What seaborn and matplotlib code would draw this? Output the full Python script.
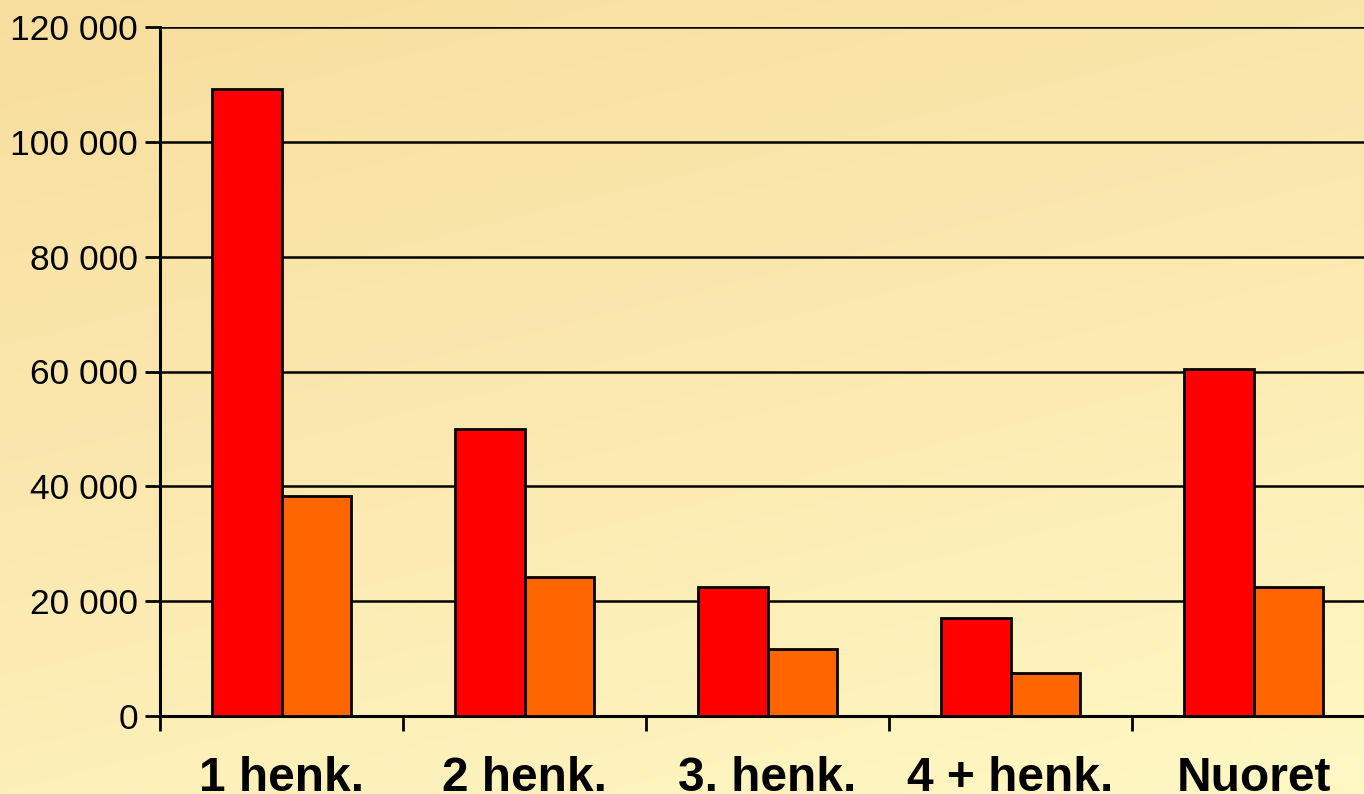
import numpy as np
import pandas as pd
import seaborn as sns
import matplotlib.pyplot as plt
from matplotlib.colors import LinearSegmentedColormap
from matplotlib.ticker import FuncFormatter, FixedLocator

# Data
categories = ["1 henk.", "2 henk.", "3. henk.", "4 + henk.", "Nuoret"]
series_1 = [109200, 50000, 22500, 17100, 60400]
series_2 = [38300, 24200, 11700, 7500, 22500]
series_names = ["Sarja 1", "Sarja 2"]
colors = ["#FF0000", "#FF6600"]

df = pd.DataFrame({
    "ryhma": categories * 2,
    "arvo": series_1 + series_2,
    "sarja": [series_names[0]] * len(categories) + [series_names[1]] * len(categories),
})

sns.set_theme(style="white")
plt.rcParams["font.family"] = ["Liberation Sans", "DejaVu Sans"]

fig = plt.figure(figsize=(13.64, 7.94), dpi=100)

# soft warm background (stand-in for the textured slide background)
bg = fig.add_axes([0, 0, 1, 1], zorder=-10)
grad = np.linspace(0, 1, 256).reshape(-1, 1) * 0.7 + np.linspace(0, 1, 256).reshape(1, -1) * 0.3
cmap = LinearSegmentedColormap.from_list("bg", ["#F8DE9E", "#FBE9B0", "#FFF8C4"])
bg.imshow(grad, aspect="auto", cmap=cmap, extent=[0, 1, 1, 0])
bg.set_axis_off()

ax = fig.add_axes([160 / 1364, 78 / 794, 1215 / 1364, 689 / 794])
ax.set_facecolor("none")

sns.barplot(
    data=df, x="ryhma", y="arvo", hue="sarja",
    palette=colors, width=0.576, gap=0,
    edgecolor="black", linewidth=2, saturation=1,
    legend=False, ax=ax, zorder=3,
)

ax.set_ylim(0, 120000)
ax.set_xlim(-0.5, len(categories) - 0.5)
ax.set_yticks(np.arange(0, 120001, 20000))
ax.yaxis.set_major_formatter(FuncFormatter(lambda v, p: f"{int(v):,}".replace(",", " ")))
ax.grid(axis="y", color="black", linewidth=1.8, zorder=0)
ax.set_axisbelow(True)

for s in ["top", "right"]:
    ax.spines[s].set_visible(False)
for s in ["left", "bottom"]:
    ax.spines[s].set_color("black")
    ax.spines[s].set_linewidth(2.2)

# category separators as minor ticks, labels at centres
ax.xaxis.set_minor_locator(FixedLocator(np.arange(-0.5, len(categories) + 0.5, 1)))
ax.tick_params(axis="x", which="minor", bottom=True, length=11, width=2,
               color="black", direction="out")
ax.tick_params(axis="x", which="major", bottom=True, length=0, pad=29,
               labelsize=34.5, labelcolor="black")
ax.tick_params(axis="y", left=True, length=11, width=2, color="black",
               direction="out", labelsize=25.5, labelcolor="black", pad=5)
for t in ax.get_xticklabels():
    t.set_fontweight("bold")
ax.set_xlabel("")
ax.set_ylabel("")

fig.savefig("out.png", dpi=100)
